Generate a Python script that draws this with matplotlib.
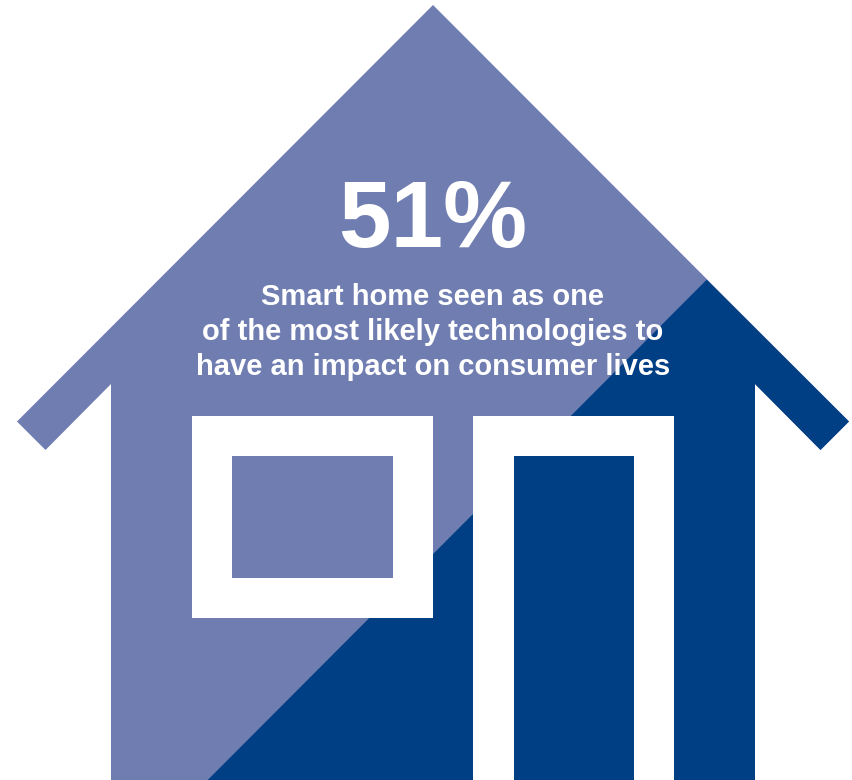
import matplotlib
matplotlib.use('Agg')
import matplotlib.pyplot as plt
from matplotlib.patches import Polygon, Rectangle

share_label = '51%'
caption_lines = ['Smart home seen as one',
                 'of the most likely technologies to',
                 'have an impact on consumer lives']
caption_y = [305.3, 339.8, 375.3]

light_blue = '#6F7DB1'
dark_blue = '#013F85'

# outline of the house, in pixels from the top left
house_x = [433, 849, 820.5, 755, 755, 111, 111, 45.5, 17]
house_y = [5, 421.5, 450, 384, 780, 780, 384, 450, 421.5]

# the dark part sits under the diagonal
split_x = [706.7, 849, 820.5, 755, 755, 207.7]
split_y = [279.7, 421.5, 450, 384, 780, 780]

window_outer = (191.7, 416, 241, 201.7)
window_inner = (232, 456, 161, 121.5)
door_outer = (473.3, 416, 200.7, 364)
door_inner = (513.7, 456, 120.5, 324)


def main():
   fig = plt.figure(figsize=(8.53, 7.80), dpi=100)
   ax = fig.add_axes([0, 0, 1, 1])
   ax.set_xlim(0, 853)
   ax.set_ylim(780, 0)
   ax.axis('off')

   ax.add_patch(Polygon(list(zip(house_x, house_y)), closed=True, fc=light_blue, ec='none'))
   ax.add_patch(Polygon(list(zip(split_x, split_y)), closed=True, fc=dark_blue, ec='none'))

   # window frame is white, with the house showing through the pane
   x, y, w, h = window_outer
   ax.add_patch(Rectangle((x, y), w, h, fc='white', ec='none'))
   x, y, w, h = window_inner
   ax.add_patch(Rectangle((x, y), w, h, fc=light_blue, ec='none'))

   x, y, w, h = door_outer
   ax.add_patch(Rectangle((x, y), w, h, fc='white', ec='none'))
   x, y, w, h = door_inner
   ax.add_patch(Rectangle((x, y), w, h, fc=dark_blue, ec='none'))

   ax.text(433, 247.5, share_label, color='white', fontsize=68, fontweight='bold',
           family='Liberation Sans', ha='center', va='baseline')
   for line, y in zip(caption_lines, caption_y):
      ax.text(433, y, line, color='white', fontsize=21, fontweight='bold',
              family='Liberation Sans', ha='center', va='baseline')

   fig.savefig('out.png', dpi=100, facecolor='white')


if __name__ == '__main__':
   main()
